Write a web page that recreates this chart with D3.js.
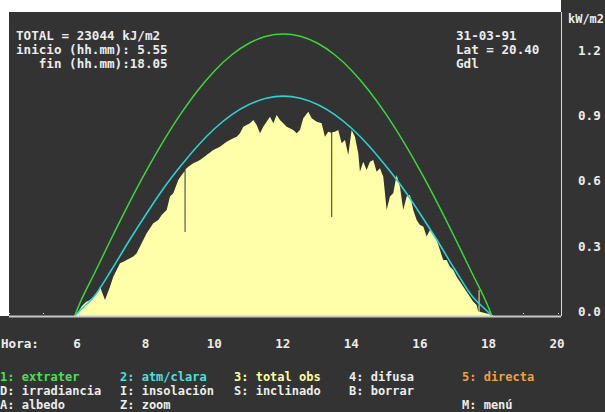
<!DOCTYPE html>
<html><head><meta charset="utf-8">
<script src="https://cdn.jsdelivr.net/npm/d3@7"></script>
<style>
html,body{margin:0;padding:0;background:#333333;overflow:hidden;}
svg{display:block;}
text{font-family:"DejaVu Sans Mono","Liberation Mono",monospace;font-size:12.6px;font-weight:bold;white-space:pre;}
text.leg{font-size:12px;}
</style></head><body>
<svg id="c" width="605" height="412"></svg>
<script>
// ---- data ----
const curveHora = [5.917,6,6.5,7,7.5,8,8.5,9,9.5,10,10.5,11,11.5,12,12.5,13,13.5,14,14.5,15,15.5,16,16.5,17,17.5,18,18.083];
const extrater  = [0,0.034,0.199,0.361,0.518,0.666,0.803,0.927,1.036,1.128,1.201,1.254,1.286,1.297,1.286,1.254,1.201,1.128,1.036,0.927,0.803,0.666,0.518,0.361,0.199,0.034,0];
const atmClara  = [0,0.014,0.093,0.215,0.345,0.468,0.585,0.688,0.782,0.862,0.926,0.972,1.001,1.011,1.001,0.972,0.926,0.862,0.782,0.688,0.585,0.468,0.345,0.215,0.093,0.014,0];

const obsHora = [5.896,6.012,6.129,6.246,6.362,6.479,6.596,6.654,6.800,6.945,7.042,7.237,7.333,7.625,7.724,7.820,8.016,8.112,8.208,8.354,8.453,8.599,8.695,8.792,8.937,9.036,
  9.120,9.121,9.149,9.150,
  9.229,9.375,9.474,9.570,9.766,9.958,10.153,10.349,10.541,10.640,10.737,10.833,11.028,11.125,11.224,11.320,11.416,11.515,11.612,11.708,11.807,11.903,11.999,12.098,12.291,12.390,12.486,12.583,12.728,12.828,12.973,13.119,13.215,13.312,
  13.398,13.399,13.427,13.428,
  13.507,13.603,13.702,13.799,13.895,13.994,14.090,14.187,14.236,14.332,14.431,14.528,14.624,14.723,14.819,14.916,15.015,15.111,15.207,15.306,15.403,15.499,15.598,15.694,15.791,15.890,15.986,16.082,16.181,16.278,16.374,16.473,16.569,16.665,16.764,16.861,16.957,17.056,17.152,17.249,17.348,17.444,17.540,17.640,17.686,
  17.696,17.697,17.723,17.724,
  17.736,17.931,18.106,18.120];
const totalObs = [0,0.018,0.046,0.064,0.074,0.087,0.110,0.135,0.074,0.135,0.181,0.242,0.250,0.273,0.288,0.319,0.380,0.403,0.426,0.441,0.464,0.487,0.549,0.564,0.625,0.648,
  0.665,0.386,0.386,0.675,
  0.686,0.702,0.709,0.717,0.740,0.763,0.778,0.801,0.817,0.824,0.840,0.870,0.886,0.901,0.878,0.840,0.870,0.893,0.916,0.886,0.924,0.901,0.886,0.870,0.855,0.840,0.855,0.909,0.939,0.909,0.893,0.886,0.824,0.847,
  0.842,0.455,0.455,0.845,
  0.847,0.855,0.794,0.809,0.740,0.855,0.824,0.748,0.663,0.709,0.671,0.709,0.717,0.663,0.679,0.640,0.487,0.549,0.564,0.648,0.594,0.487,0.549,0.556,0.487,0.441,0.418,0.411,0.365,0.395,0.380,0.349,0.303,0.257,0.257,0.227,0.211,0.181,0.158,0.135,0.112,0.089,0.066,0.051,0.020,
  0.020,0.120,0.120,0.020,
  0.020,0.012,0.005,0];

const xTicks = [6,8,10,12,14,16,18,20];
const yTicks = [0,0.3,0.6,0.9,1.2];
const hourDots = [4,5,6,7,8,9,10,11,12,13,14,15,16,17,18,19,20];
const infoLeft  = ["TOTAL = 23044 kJ/m2","inicio (hh.mm): 5.55","   fin (hh.mm):18.05"];
const infoRight = ["31-03-91","Lat = 20.40","Gdl"];
const unitLabel = "kW/m2";
const axisTitle = "Hora:";
const legendRows = [
  [["1: extrater","#4ee04e"],["2: atm/clara","#4ee0e0"],["3: total obs","#ffff9c"],["4: difusa","#ececec"],["5: directa","#f0a040"]],
  [["D: irradiancia","#ececec"],["I: insolación","#ececec"],["S: inclinado","#ececec"],["B: borrar","#ececec"]],
  [["A: albedo","#ececec"],["Z: zoom","#ececec"],null,null,["M: menú","#ececec"]]
];

// ---- drawing ----
const svg = d3.select("#c");
const W = 605, H = 412;
const plot = {l:9, t:12, r:561, b:316};
const x = d3.scaleLinear().domain([4, 20.1]).range([plot.l, plot.r]);
const y = d3.scaleLinear().domain([0, 1.2]).range([plot.b, 55]);

svg.append("rect").attr("width",W).attr("height",H).attr("fill","#333333");
// white margin above / left of the plot frame
svg.append("rect").attr("x",0).attr("y",0).attr("width",plot.r).attr("height",plot.t).attr("fill","#ffffff");
svg.append("rect").attr("x",0).attr("y",0).attr("width",plot.l).attr("height",plot.b).attr("fill","#ffffff");

// hour dots
svg.append("g").selectAll("rect").data(hourDots).join("rect")
  .attr("x", d => Math.round(x(d))).attr("y", plot.b-3).attr("width",1).attr("height",1).attr("fill","#dddddd");

// observed total area
const obs = obsHora.map((h,i)=>({h, v: totalObs[i]}));
svg.append("path").datum(obs)
  .attr("fill","#ffffaa")
  .attr("d", d3.area().x(d=>x(d.h)).y0(y(0)).y1(d=>y(d.v)));

const lineGen = d3.line().x(d=>x(d.h)).y(d=>y(d.v)).curve(d3.curveMonotoneX);
svg.append("path").datum(curveHora.map((h,i)=>({h, v: atmClara[i]})))
  .attr("fill","none").attr("stroke","#2fd0d0").attr("stroke-width",1.6).attr("d", lineGen);
svg.append("path").datum(curveHora.map((h,i)=>({h, v: extrater[i]})))
  .attr("fill","none").attr("stroke","#3fd43f").attr("stroke-width",1.5).attr("d", lineGen);

// frame
svg.append("line").attr("x1",plot.l).attr("x2",plot.r).attr("y1",plot.b+0.5).attr("y2",plot.b+0.5)
  .attr("stroke","#c8c8c8").attr("stroke-width",2);
svg.append("line").attr("x1",plot.r+0.5).attr("x2",plot.r+0.5).attr("y1",plot.t).attr("y2",plot.b)
  .attr("stroke","#d8d8d8").attr("stroke-width",1);

// y axis (right)
const yAxis = svg.append("g").attr("transform",`translate(${plot.r},0)`)
  .call(d3.axisRight(y).tickValues(yTicks).tickFormat(d3.format(".1f")).tickSize(0).tickPadding(17));
yAxis.select(".domain").remove();
yAxis.attr("font-family",null).attr("font-size",null);
yAxis.selectAll("text").attr("fill","#ececec").attr("dy","0.35em").attr("transform","translate(0,-5)");
svg.append("text").attr("x",568).attr("y",23).attr("fill","#ececec")
  .attr("textLength",36).attr("lengthAdjust","spacingAndGlyphs").text(unitLabel);

// x axis (labels below)
const xAxis = svg.append("g").attr("transform","translate(-1,0)")
  .call(d3.axisBottom(x).tickValues(xTicks).tickFormat(d3.format("d")).tickSize(0));
xAxis.select(".domain").remove();
xAxis.attr("font-family",null).attr("font-size",null);
xAxis.selectAll("text").attr("y",347.5).attr("dy",null).attr("fill","#ececec");
svg.append("text").attr("x",1).attr("y",347.5).attr("fill","#ececec").text(axisTitle);

// info texts
svg.append("g").selectAll("text").data(infoLeft).join("text")
  .attr("x",16).attr("y",(d,i)=>40+i*14).attr("fill","#ececec").text(d=>d);
svg.append("g").selectAll("text").data(infoRight).join("text")
  .attr("x",456).attr("y",(d,i)=>40+i*14).attr("fill","#ececec").text(d=>d);

// legend
const colX = [0,120,234,349,462];
const rowY = [381,395,409];
legendRows.forEach((row,ri)=>{
  row.forEach((item,ci)=>{
    if(!item) return;
    svg.append("text").attr("class","leg").attr("x",colX[ci]).attr("y",rowY[ri]).attr("fill",item[1]).text(item[0]);
  });
});
</script>
</body></html>
